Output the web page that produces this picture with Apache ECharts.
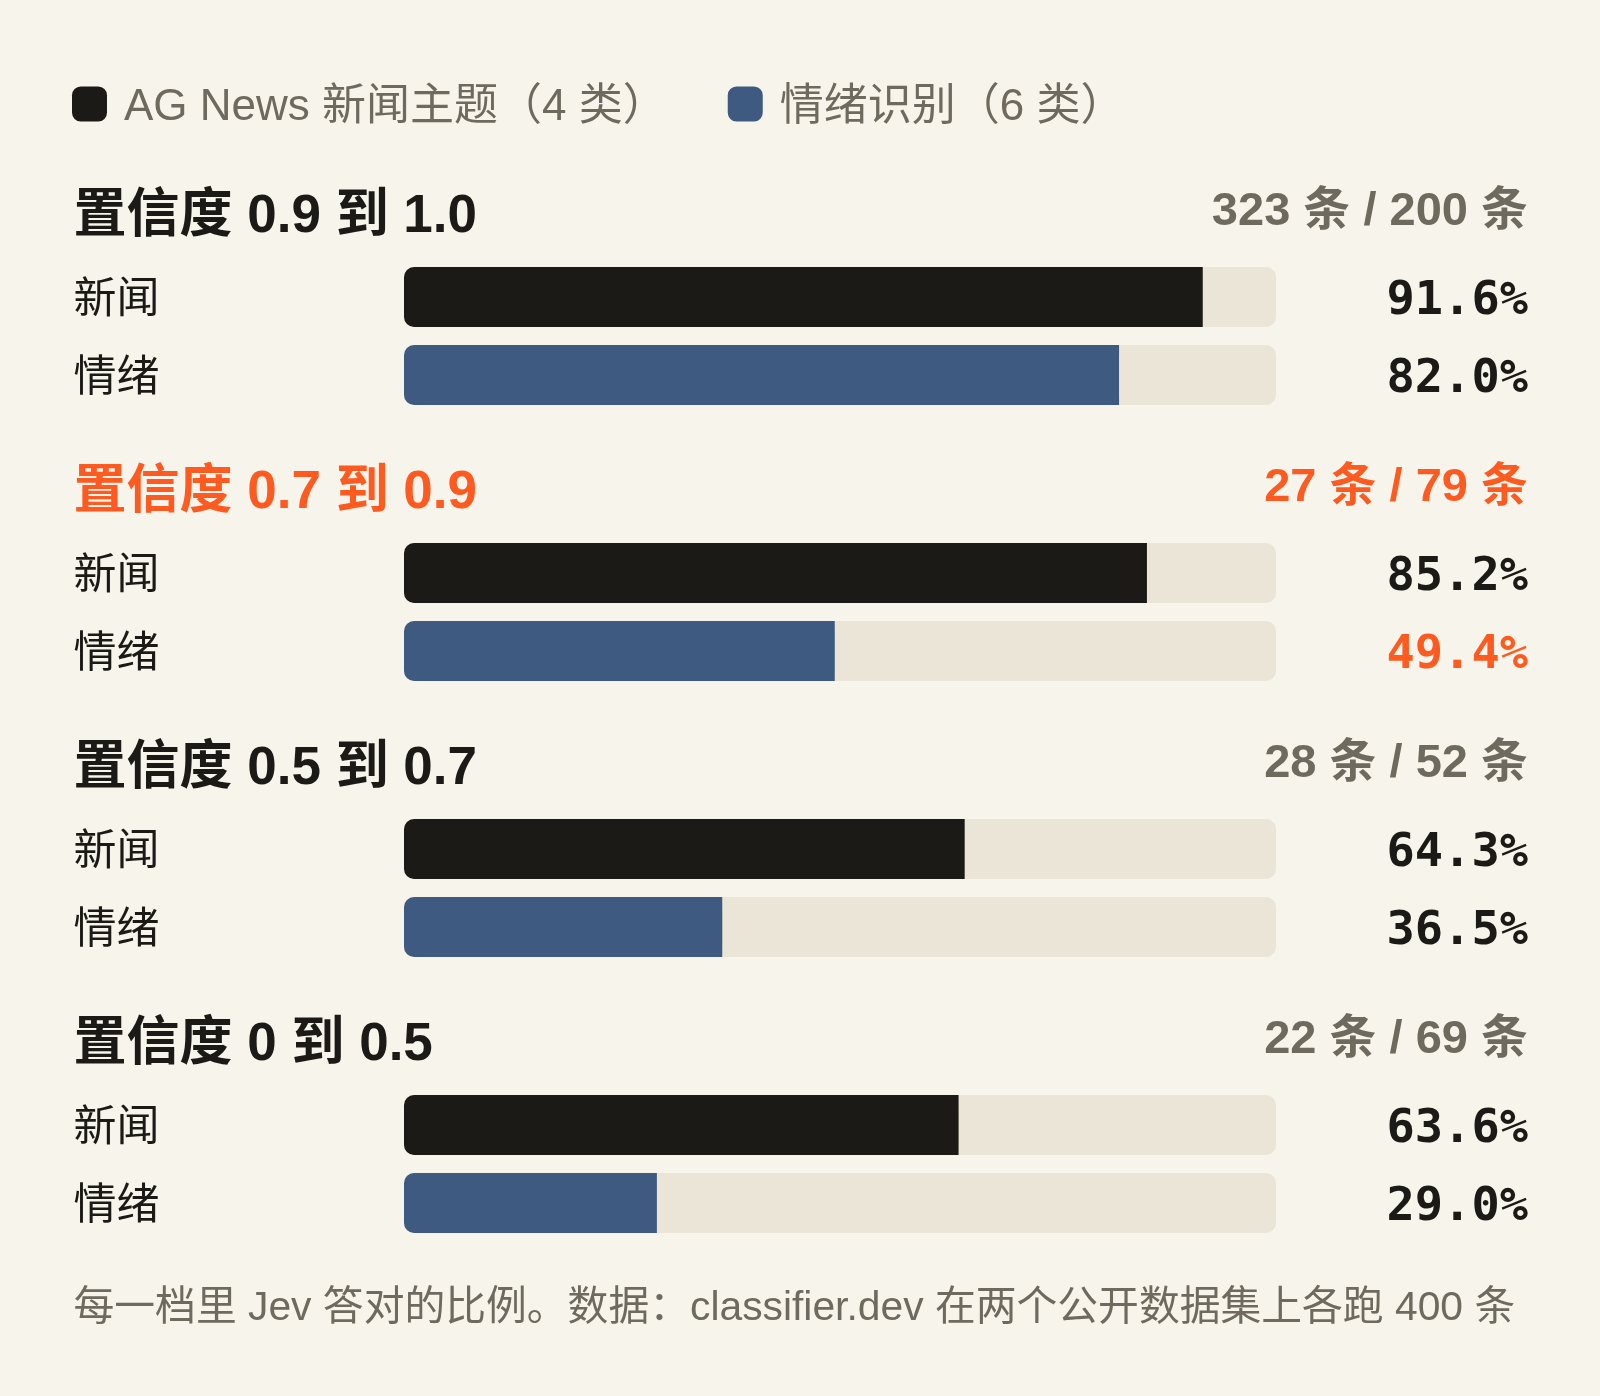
<!DOCTYPE html>
<html>
<head>
<meta charset="utf-8">
<script src="https://cdn.jsdelivr.net/npm/echarts@6/dist/echarts.min.js"></script>
<style>
  html, body { margin: 0; padding: 0; background: #f7f4ec; }
  #chart { width: 1600px; height: 1396px; }
</style>
</head>
<body>
<div id="chart"></div>
<script>
// 数据
const bandTitles = ['置信度 0.9 到 1.0', '置信度 0.7 到 0.9', '置信度 0.5 到 0.7', '置信度 0 到 0.5'];
const rowLabels = ['新闻', '情绪'];
const newsCounts = [323, 27, 28, 22];
const emoCounts = [200, 79, 52, 69];
const newsAcc = [91.6, 85.2, 64.3, 63.6];
const emoAcc = [82.0, 49.4, 36.5, 29.0];
const seriesNames = ['AG News 新闻主题（4 类）', '情绪识别（6 类）'];
const highlightBand = 1;   // 情绪这一档掉到一半以下
const footNote = '每一档里 Jev 答对的比例。数据：classifier.dev 在两个公开数据集上各跑 400 条';

// 样式
const FONT = '"Liberation Sans", "Noto Sans CJK SC", sans-serif';
const CJK = '"Noto Sans CJK SC", sans-serif';
const MONO = '"DejaVu Sans Mono", monospace';
const INK = '#1c1a16';
const BLUE = '#3e5a80';
const ORANGE = '#ff5a1f';
const GREY = '#6f6a5e';
const TRACK = '#ebe5d8';

const TEXT_L = 73.5, TRACK_L = 404, TRACK_R = 1276, VALUE_R = 1528;
const GRID_TOP0 = 258, STRIDE = 276, ROW_H = 78;

function build_option() {
    let grid = [], xAxis = [], yAxis = [], series = [], graphic = [];

    bandTitles.forEach(function (title, i) {
        let top = GRID_TOP0 + i * STRIDE;
        let hot = i === highlightBand;

        grid.push({left: TRACK_L, right: 1600 - TRACK_R, top: top, height: ROW_H * 2});
        xAxis.push({type: 'value', gridIndex: i, min: 0, max: 100, show: false});
        yAxis.push({
            type: 'category', gridIndex: i, data: rowLabels, inverse: true,
            axisLine: {show: false}, axisTick: {show: false},
            axisLabel: {
                align: 'left', margin: TRACK_L - TEXT_L,
                fontSize: 43, color: INK, fontFamily: CJK
            }
        });
        yAxis.push({
            type: 'category', gridIndex: i, position: 'right', inverse: true,
            data: [newsAcc[i].toFixed(1) + '%', emoAcc[i].toFixed(1) + '%'],
            axisLine: {show: false}, axisTick: {show: false},
            axisLabel: {
                align: 'right', margin: VALUE_R - TRACK_R,
                formatter: function (v, idx) {
                    return (hot && idx === 1) ? `{hot|${v}}` : `{v|${v}}`;
                },
                rich: {
                    v: {fontSize: 47, fontWeight: 'bold', fontFamily: MONO, color: INK, padding: [9, 0, 0, 0]},
                    hot: {fontSize: 47, fontWeight: 'bold', fontFamily: MONO, color: ORANGE, padding: [9, 0, 0, 0]}
                }
            }
        });

        series.push({
            name: seriesNames[0], type: 'bar', xAxisIndex: i, yAxisIndex: i * 2,
            data: [newsAcc[i], '-'], barWidth: 60, barGap: '-100%',
            showBackground: true,
            backgroundStyle: {color: TRACK, borderRadius: 10},
            itemStyle: {color: INK, borderRadius: [10, 0, 0, 10]},
            silent: true
        });
        series.push({
            name: seriesNames[1], type: 'bar', xAxisIndex: i, yAxisIndex: i * 2,
            data: ['-', emoAcc[i]], barWidth: 60, barGap: '-100%',
            itemStyle: {color: BLUE, borderRadius: [10, 0, 0, 10]},
            silent: true
        });

        graphic.push({
            type: 'text', x: TEXT_L, y: top - 41,
            style: {
                text: title, fontSize: 53, fontWeight: 'bold', fontFamily: FONT,
                fill: hot ? ORANGE : INK, align: 'left', verticalAlign: 'middle'
            }
        });
        graphic.push({
            type: 'text', x: VALUE_R, y: top - 46,
            style: {
                text: `${newsCounts[i]} 条 / ${emoCounts[i]} 条`,
                fontSize: 47, fontWeight: 'bold', fontFamily: FONT,
                fill: hot ? ORANGE : GREY, align: 'right', verticalAlign: 'middle'
            }
        });
    });

    graphic.push({
        type: 'text', x: TEXT_L, y: 1309,
        style: {
            text: footNote, fontSize: 40.8, fontFamily: FONT,
            fill: GREY, align: 'left', verticalAlign: 'middle'
        }
    });

    return {
        backgroundColor: '#f7f4ec',
        animation: false,
        legend: {
            data: seriesNames, left: 72, top: 86, padding: 0,
            icon: 'roundRect', itemWidth: 35, itemHeight: 35, itemGap: 61,
            selectedMode: false,
            formatter: '{t|{name}}',
            textStyle: {
                fontSize: 44, color: GREY, fontFamily: FONT,
                rich: {t: {fontSize: 44, color: GREY, fontFamily: FONT, padding: [8, 0, 0, 12]}}
            }
        },
        grid: grid,
        xAxis: xAxis,
        yAxis: yAxis,
        series: series,
        graphic: graphic
    };
}

let chart = echarts.init(document.getElementById('chart'));
chart.setOption(build_option());
window.addEventListener('resize', function () {
    chart.resize();
});
</script>
</body>
</html>
